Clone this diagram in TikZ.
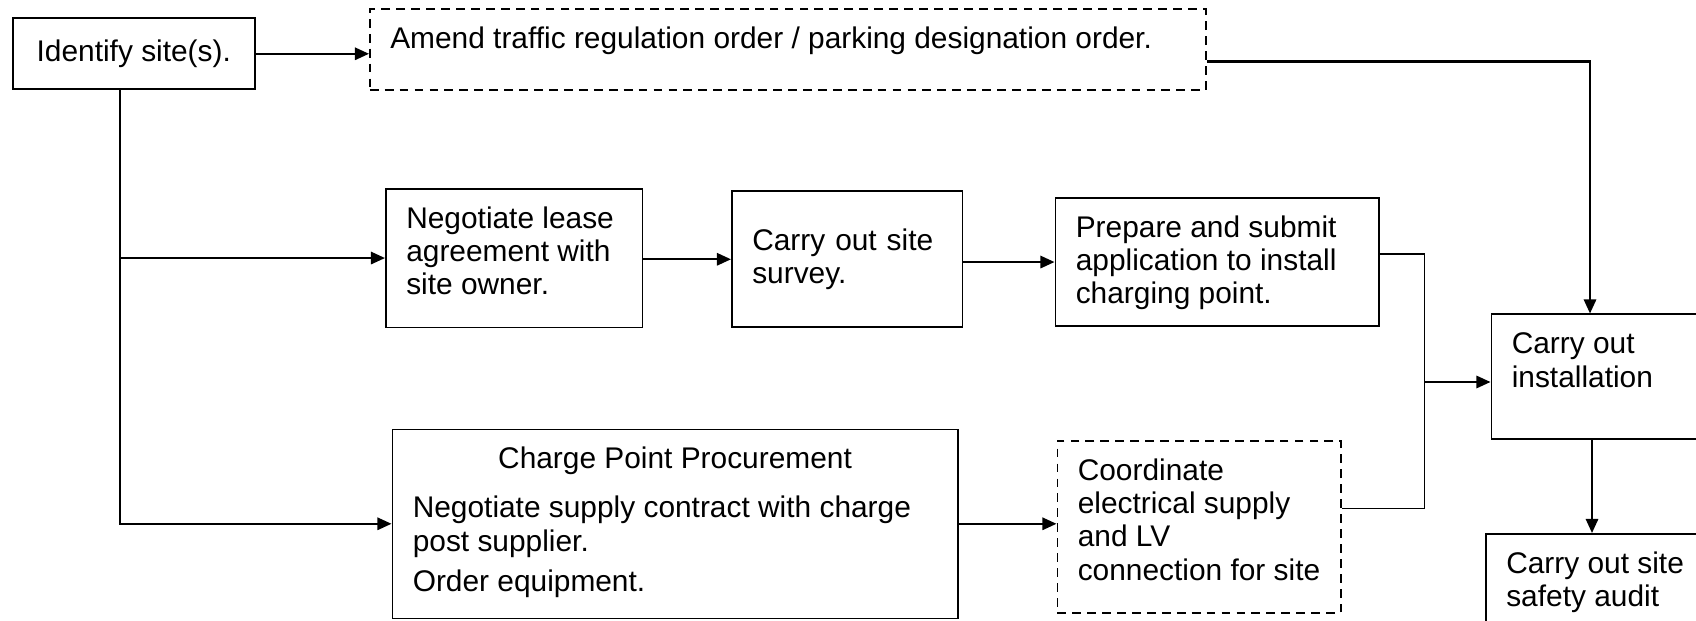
\documentclass[tikz,border=0pt]{standalone}
\usepackage{fontspec}
\setmainfont{Liberation Sans}
\usepackage{tikz}
\usetikzlibrary{arrows.meta,positioning}

\tikzset{
  stepbox/.style={draw, line width=0.9pt, inner xsep=0.41cm, inner ysep=0.32cm},
  optbox/.style={stepbox, dash pattern=on 5pt off 3.5pt},
  flow/.style={->, line width=1.2pt},
  link/.style={line width=0.9pt},
  >={Triangle[length=8pt,width=7pt]}
}
\newcommand{\steptext}[3]{\parbox[t][#2][t]{#1}{\raggedright\strut #3}}

\begin{document}
\begin{tikzpicture}[font=\fontsize{17pt}{19pt}\selectfont]

\useasboundingbox (0,0) rectangle (33.92,-12.42);
\clip (0,0) rectangle (33.92,-12.42);

\coordinate(O1) at (0,0);

\node[below right=0.35cm and 0.24cm of O1, stepbox, minimum width=4.84cm, minimum height=1.42cm](ident) {Identify site(s).};
\node[below right=0.17cm and 7.38cm of O1, optbox](amend) {\steptext{15.9cm}{0.98cm}{Amend traffic regulation order / parking designation order.}};

\node[below right=3.76cm and 7.70cm of O1, stepbox](neg) {\steptext{4.31cm}{2.13cm}{Negotiate lease\\ agreement with\\ site owner.}};
\node[below right=3.81cm and 14.62cm of O1, stepbox, align=left, text width=3.79cm, minimum height=2.72cm](surv) {Carry out site\\ survey.};
\node[below right=3.94cm and 21.09cm of O1, stepbox](prep) {\steptext{5.65cm}{1.93cm}{Prepare and submit\\ application to install\\ charging point.}};

\node[below right=6.27cm and 29.81cm of O1, stepbox](inst) {\steptext{3.87cm}{1.85cm}{Carry out\\ installation}};
\node[below right=10.66cm and 29.70cm of O1, stepbox](audit) {\steptext{3.98cm}{1.56cm}{Carry out site\\ safety audit}};

\node[below right=8.57cm and 7.83cm of O1, stepbox](proc) {\steptext{10.49cm}{3.14cm}{{\centering Charge Point Procurement\par}\vspace{9pt}Negotiate supply contract with charge\\ post supplier.\par\vspace{4pt}Order equipment.}};
\node[below right=8.80cm and 21.13cm of O1, optbox](coord) {\steptext{4.85cm}{2.80cm}{Coordinate\\ electrical supply\\ and LV\\ connection for site}};

% connectors
\coordinate (trunk) at (2.40,0);
\coordinate (k1) at (31.80,-1.23);
\coordinate (k2) at (31.84,0);
\coordinate (j1) at (28.49,-5.08);
\coordinate (j2) at (28.49,-10.17);
\coordinate (j3) at (28.49,-7.64);

\draw[flow] (ident.east) -- (ident.east -| amend.west);
\draw[flow] (amend.east |- k1) -- (k1) -- (k1 |- inst.north);
\draw[flow] (trunk |- ident.south) |- (proc.west);
\draw[flow] (trunk |- neg.west) -- (neg.west);
\draw[flow] (neg.east |- surv.west) -- (surv.west);
\draw[flow] (surv.east |- prep.west) -- (prep.west);
\draw[link] (prep.east |- j1) -- (j1) -- (j2) -- (coord.east |- j2);
\draw[flow] (j3) -- (j3 -| inst.west);
\draw[flow] (proc.east) -- (proc.east -| coord.west);
\draw[flow] (k2 |- inst.south) -- (k2 |- audit.north);
\end{tikzpicture}
\end{document}
